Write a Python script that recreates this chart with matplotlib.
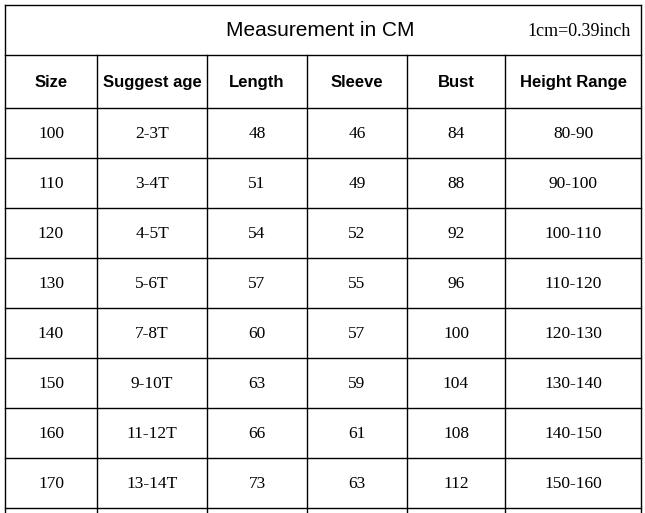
import matplotlib

matplotlib.use("Agg")
import matplotlib.pyplot as plt

title = "Measurement in CM"
note = "1cm=0.39inch"
headers = ["Size", "Suggest age", "Length", "Sleeve", "Bust", "Height Range"]
sizes = ["100", "110", "120", "130", "140", "150", "160", "170"]
ages = ["2-3T", "3-4T", "4-5T", "5-6T", "7-8T", "9-10T", "11-12T", "13-14T"]
lengths = [48, 51, 54, 57, 60, 63, 66, 73]
sleeves = [46, 49, 52, 55, 57, 59, 61, 63]
busts = [84, 88, 92, 96, 100, 104, 108, 112]
heights = ["80-90", "90-100", "100-110", "110-120", "120-130", "130-140",
           "140-150", "150-160"]

# layout in pixels
W, H = 645, 513
col_edges = [5, 97, 207, 307, 407, 505, 641]
top, title_h, head_h, row_h = 5, 50, 53, 50

fig = plt.figure(figsize=(W / 100, H / 100), dpi=100)
ax = fig.add_axes([0, 0, 1, 1])
ax.set_xlim(0, W)
ax.set_ylim(H, 0)
ax.axis("off")

serif = "Liberation Serif"
sans = "Liberation Sans"
lw = 1.0
left, right = col_edges[0], col_edges[-1]
y_head = top + title_h
y_data = y_head + head_h
n_rows = len(sizes) + 1  # one more row cut off at the bottom
y_end = y_data + n_rows * row_h

ax.plot([left, right], [top, top], color="black", lw=lw)
for y in [y_head, y_data] + [y_data + i * row_h for i in range(1, n_rows)]:
    ax.plot([left, right], [y, y], color="black", lw=lw)
ax.plot([left, left], [top, y_end], color="black", lw=lw)
ax.plot([right, right], [top, y_end], color="black", lw=lw)
for x in col_edges[1:-1]:
    ax.plot([x, x], [y_head, y_end], color="black", lw=lw)

ax.text(320, top + title_h / 2, title, ha="center", va="center",
        fontsize=15, family=sans)
ax.text(right - 10, top + title_h / 2 + 1, note, ha="right", va="center",
        fontsize=13, family=serif)

centers = [(a + b) / 2 for a, b in zip(col_edges[:-1], col_edges[1:])]
for cx, h in zip(centers, headers):
    ax.text(cx, y_head + head_h / 2 + 1, h, ha="center", va="center",
            fontsize=12, family=sans, weight="bold")

for i in range(len(sizes)):
    cy = y_data + i * row_h + row_h / 2 + 1
    row = [sizes[i], ages[i], lengths[i], sleeves[i], busts[i], heights[i]]
    for cx, v in zip(centers, row):
        ax.text(cx, cy, str(v), ha="center", va="center", fontsize=12.5,
                family=serif)

fig.savefig("out.png", dpi=100)
